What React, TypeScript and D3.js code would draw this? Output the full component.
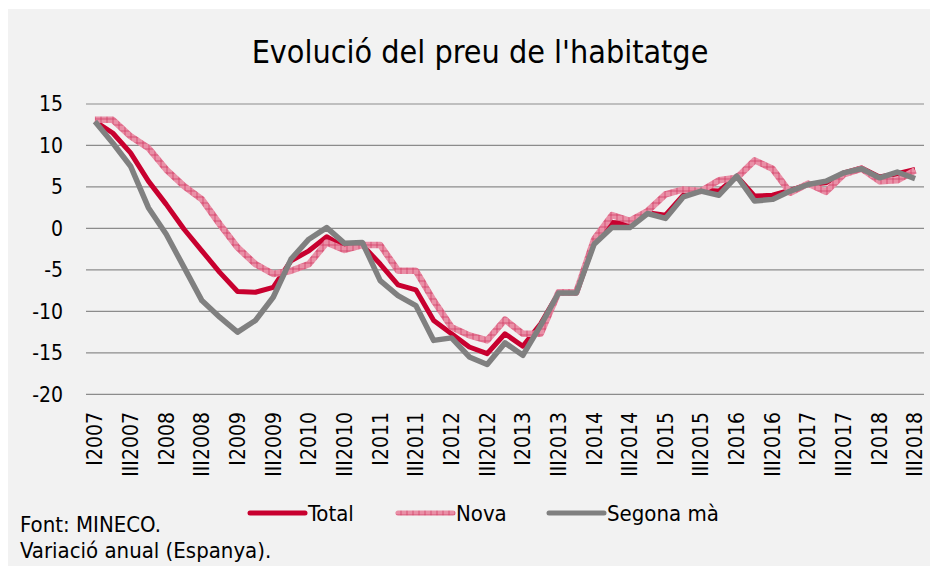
import React, { useEffect, useRef } from "react";
import * as d3 from "d3";

// quarterly, annual variation (%)
const quarters: string[] = [];
for (let y = 2007; y <= 2018; y++) {
  for (const q of ["I", "II", "III", "IV"]) {
    if (y === 2018 && q === "IV") continue;
    quarters.push(q + y);
  }
}

const total = [12.9, 11.5, 9.1, 5.7, 2.9, -0.1, -2.7, -5.3, -7.6, -7.7,
  -7.1, -3.9, -2.7, -1.0, -2.3, -2.0, -4.3, -6.8, -7.4, -11.1,
  -12.7, -14.3, -15.1, -12.7, -14.2, -11.5, -7.8, -7.8, -1.7, 0.7,
  0.6, 1.9, 1.6, 4.0, 4.6, 4.5, 6.3, 3.9, 4.0, 4.6,
  5.3, 5.5, 6.7, 7.3, 6.2, 6.6, 7.1];
const nova = [13.1, 13.1, 11.1, 9.7, 7.1, 5.1, 3.5, 0.5, -2.3, -4.3,
  -5.5, -5.1, -4.3, -1.7, -2.6, -2.0, -2.0, -5.1, -5.1, -8.7,
  -11.9, -12.9, -13.5, -11.0, -12.7, -12.7, -7.7, -7.7, -1.3, 1.6,
  0.9, 2.1, 4.1, 4.7, 4.5, 5.8, 6.1, 8.2, 7.2, 4.3,
  5.4, 4.4, 6.5, 7.2, 5.7, 5.8, 7.0];
const segona = [12.9, 10.3, 7.5, 2.5, -0.7, -4.7, -8.7, -10.7, -12.5, -11.1,
  -8.3, -3.7, -1.3, 0.1, -1.8, -1.7, -6.3, -8.1, -9.3, -13.5,
  -13.2, -15.5, -16.4, -13.8, -15.3, -11.7, -7.8, -7.8, -1.9, 0.1,
  0.1, 1.8, 1.2, 3.8, 4.5, 4.0, 6.3, 3.3, 3.5, 4.5,
  5.3, 5.7, 6.7, 7.2, 6.1, 6.8, 6.0];

const yTicks = [15, 10, 5, 0, -5, -10, -15, -20];

const FONT = "'Liberation Sans Narrow', 'DejaVu Sans Condensed', sans-serif";

export default function App() {
  const ref = useRef<SVGSVGElement>(null);

  useEffect(() => {
    const width = 930, height = 558;
    const svg = d3.select(ref.current);
    svg.selectAll("*").remove();

    const defs = svg.append("defs");
    const pat = defs.append("pattern")
      .attr("id", "novaPat")
      .attr("patternUnits", "userSpaceOnUse")
      .attr("width", 6).attr("height", 6);
    pat.append("rect").attr("width", 6).attr("height", 6).attr("fill", "#E98FA6");
    pat.append("path").attr("d", "M0 3H6M3 0V6")
      .attr("stroke", "#C8204C").attr("stroke-width", 0.7).attr("opacity", 0.8);

    svg.append("rect").attr("x", 0).attr("y", 1)
      .attr("width", width).attr("height", height)
      .attr("fill", "#F2F2F2");

    svg.append("text")
      .attr("x", 472).attr("y", 55)
      .attr("text-anchor", "middle")
      .style("font-family", FONT)
      .style("font-size", "32px")
      .attr("fill", "#000")
      .text("Evolució del preu de l'habitatge");

    const left = 78, right = 916;
    const x = d3.scaleBand().domain(quarters).range([left, right]);
    const y = d3.scaleLinear().domain([-20, 15]).range([386.3, 96]);

    const g = svg.append("g");
    g.selectAll("line.grid").data(yTicks).enter().append("line")
      .attr("x1", left).attr("x2", right)
      .attr("y1", (d) => y(d)).attr("y2", (d) => y(d))
      .attr("stroke", "#8C8C8C").attr("stroke-width", 1.2);

    g.selectAll("text.ytick").data(yTicks).enter().append("text")
      .attr("x", 55).attr("y", (d) => y(d))
      .attr("dy", "0.35em")
      .attr("text-anchor", "end")
      .style("font-family", FONT)
      .style("font-size", "21px")
      .text((d) => (d < 0 ? "-" + Math.abs(d) : String(d)));

    const labelled = quarters.filter((q, i) => i % 2 === 0);
    g.selectAll("text.xtick").data(labelled).enter().append("text")
      .attr("transform", (d) => `translate(${x(d)! + x.bandwidth() / 2},404) rotate(-90)`)
      .attr("dy", "0.35em")
      .attr("text-anchor", "end")
      .style("font-family", FONT)
      .style("font-size", "21px")
      .text((d) => d);

    const line = d3.line<number>()
      .x((d, i) => x(quarters[i])! + x.bandwidth() / 2)
      .y((d) => y(d));

    g.append("path").datum(total).attr("d", line)
      .attr("fill", "none").attr("stroke", "#C8002F")
      .attr("stroke-width", 5).attr("stroke-linejoin", "round");
    g.append("path").datum(nova).attr("d", line)
      .attr("fill", "none").attr("stroke", "url(#novaPat)")
      .attr("stroke-width", 6.5).attr("stroke-linejoin", "round");
    g.append("path").datum(segona).attr("d", line)
      .attr("fill", "none").attr("stroke", "#808080")
      .attr("stroke-width", 5.5).attr("stroke-linejoin", "round");

    // legend
    const legend = [
      { name: "Total", stroke: "#C8002F", w: 5, x0: 242 },
      { name: "Nova", stroke: "url(#novaPat)", w: 5, x0: 390 },
      { name: "Segona mà", stroke: "#808080", w: 5, x0: 541 },
    ];
    const lg = svg.append("g");
    legend.forEach((l) => {
      lg.append("line")
        .attr("x1", l.x0).attr("x2", l.x0 + 55)
        .attr("y1", 505).attr("y2", 505)
        .attr("stroke", l.stroke).attr("stroke-width", l.w)
        .attr("stroke-linecap", "round");
      lg.append("text")
        .attr("x", l.x0 + 58).attr("y", 505).attr("dy", "0.35em")
        .style("font-family", FONT).style("font-size", "22px")
        .text(l.name);
    });

    svg.append("text").attr("x", 12).attr("y", 524)
      .style("font-family", FONT).style("font-size", "22px")
      .text("Font: MINECO.");
    svg.append("text").attr("x", 12).attr("y", 550)
      .style("font-family", FONT).style("font-size", "22px")
      .text("Variació anual (Espanya).");
  }, []);

  return <svg ref={ref} width={930} height={558} style={{ display: "block" }} />;
}
